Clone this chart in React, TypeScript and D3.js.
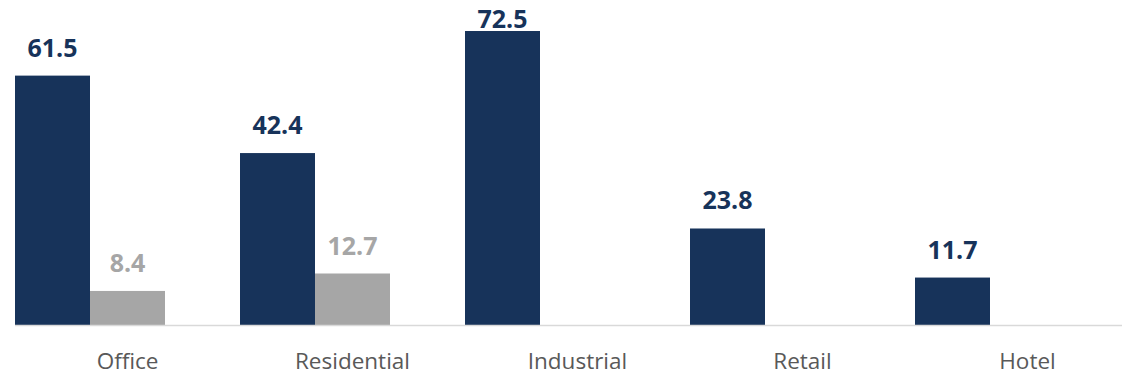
import React from "react";
import * as d3 from "d3";

const categories = ["Office", "Residential", "Industrial", "Retail", "Hotel"];
const seriesA: (number | null)[] = [61.5, 42.4, 72.5, 23.8, 11.7];
const seriesB: (number | null)[] = [8.4, 12.7, null, null, null];
const seriesC: (number | null)[] = [null, null, null, null, null];
const seriesKeys = ["A", "B", "C"];
const yDomainMax = 80;

const W = 1122;
const H = 376;
const NAVY = "#17335A";
const GREY = "#A6A6A6";

export default function App() {
  const x = d3
    .scaleBand<string>()
    .domain(categories)
    .range([15, 15 + 225 * categories.length])
    .paddingInner(0)
    .paddingOuter(0);
  const xs = d3.scaleBand<string>().domain(seriesKeys).range([0, x.bandwidth()]).padding(0);
  const y = d3.scaleLinear().domain([0, yDomainMax]).range([325, 0.6]);

  const series = [
    { key: "A", values: seriesA, fill: NAVY, label: NAVY },
    { key: "B", values: seriesB, fill: GREY, label: GREY },
    { key: "C", values: seriesC, fill: "#5B9BD5", label: "#5B9BD5" },
  ];

  return (
    <svg
      width={W}
      height={H}
      style={{ position: "absolute", left: 0, top: 0, background: "#fff" }}
    >
      {series.map((s) =>
        s.values.map((v, i) => {
          if (v == null) return null;
          const x0 = (x(categories[i]) ?? 0) + (xs(s.key) ?? 0);
          const top = y(v);
          const labelY = Math.max(top - 19, 27.5);
          return (
            <g key={s.key + i}>
              <rect
                x={x0}
                y={top}
                width={xs.bandwidth()}
                height={y(0) - top}
                fill={s.fill}
              />
              <text
                x={x0 + xs.bandwidth() / 2}
                y={labelY}
                textAnchor="middle"
                fontFamily="'Open Sans', sans-serif"
                fontWeight={700}
                fontSize={25}
                fill={s.label}
              >
                {v.toFixed(1)}
              </text>
            </g>
          );
        })
      )}
      <line x1={15} x2={W} y1={325.6} y2={325.6} stroke="#D9D9D9" strokeWidth={1.5} />
      {categories.map((c) => (
        <text
          key={c}
          x={(x(c) ?? 0) + x.bandwidth() / 2}
          y={369}
          textAnchor="middle"
          fontFamily="'Open Sans', sans-serif"
          fontSize={22.5}
          fill="#595959"
        >
          {c}
        </text>
      ))}
    </svg>
  );
}
